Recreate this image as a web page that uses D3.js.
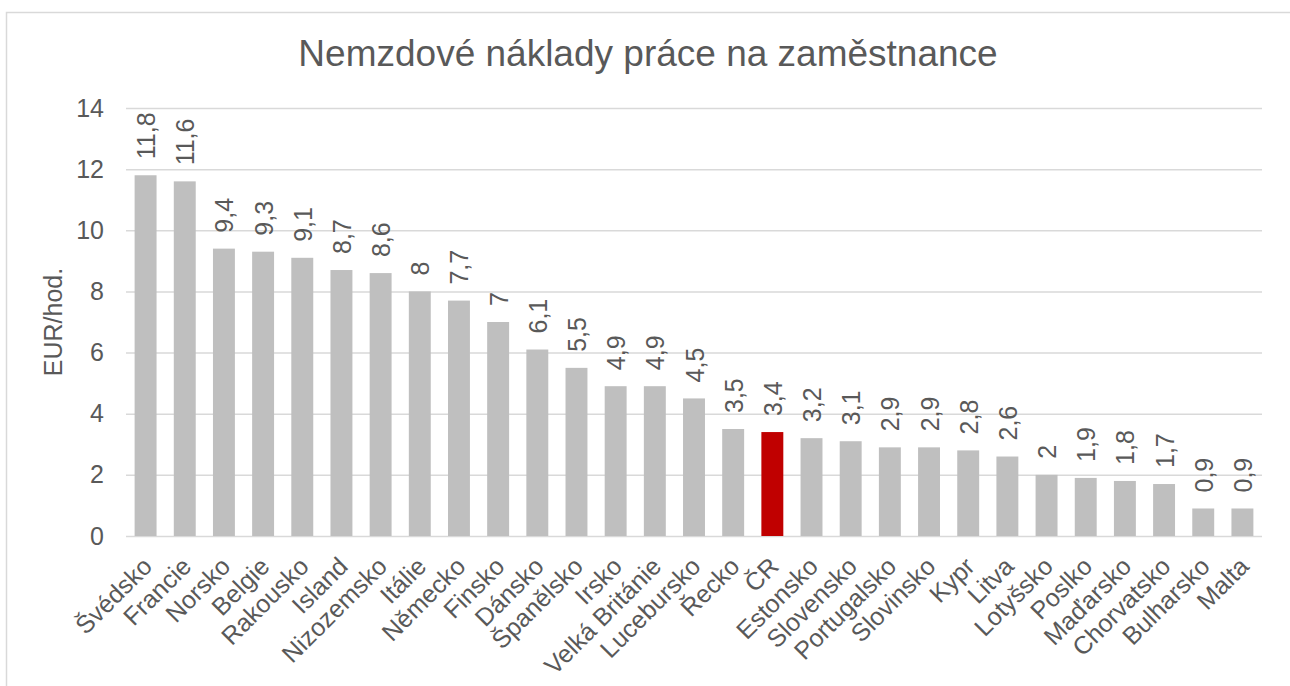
<!DOCTYPE html>
<html>
<head>
<meta charset="utf-8">
<script src="https://cdn.jsdelivr.net/npm/d3@7"></script>
<style>
  body { margin: 0; background: #fff; }
  svg text { font-family: "Liberation Sans", Arial, sans-serif; fill: #595959; }
</style>
</head>
<body>
<svg id="chart" width="1290" height="686"></svg>
<script>
// Data
const countries = ["Švédsko", "Francie", "Norsko", "Belgie", "Rakousko", "Island", "Nizozemsko",
    "Itálie", "Německo", "Finsko", "Dánsko", "Španělsko", "Irsko", "Velká Británie", "Lucebursko",
    "Řecko", "ČR", "Estonsko", "Slovensko", "Portugalsko", "Slovinsko", "Kypr", "Litva", "Lotyšsko",
    "Poslko", "Maďarsko", "Chorvatsko", "Bulharsko", "Malta"];
const costs = [11.8, 11.6, 9.4, 9.3, 9.1, 8.7, 8.6, 8, 7.7, 7, 6.1, 5.5, 4.9, 4.9, 4.5,
    3.5, 3.4, 3.2, 3.1, 2.9, 2.9, 2.8, 2.6, 2, 1.9, 1.8, 1.7, 0.9, 0.9];
const highlight = "ČR";
const yTicks = [0, 2, 4, 6, 8, 10, 12, 14];

const title = "Nemzdové náklady práce na zaměstnance";
const yTitle = "EUR/hod.";

const data = countries.map((c, i) => ({ name: c, value: costs[i] }));

const margin = { left: 126, right: 28, top: 108, bottom: 150 };
const width = 1290, height = 686;

const svg = d3.select("#chart");

// outer chart border (runs off the right and bottom edge)
svg.append("rect")
    .attr("x", 6.5).attr("y", 12.5)
    .attr("width", 1400).attr("height", 800)
    .attr("fill", "none")
    .attr("stroke", "#d9d9d9")
    .attr("stroke-width", 1.5);

const x = d3.scaleBand()
    .domain(countries)
    .range([margin.left, width - margin.right])
    .paddingInner(0.44)
    .paddingOuter(0.22);

const y = d3.scaleLinear()
    .domain([0, 14])
    .range([height - margin.bottom, margin.top]);

// gridlines + tick labels
const yAxis = d3.axisLeft(y)
    .tickValues(yTicks)
    .tickSize(-(width - margin.left - margin.right))
    .tickPadding(22)
    .tickFormat(d3.format("d"));

const yAxisG = svg.append("g")
    .attr("transform", `translate(${margin.left},0)`)
    .call(yAxis);
yAxisG.select(".domain").remove();
yAxisG.selectAll(".tick line")
    .attr("stroke", "#d9d9d9")
    .attr("stroke-width", 1.5);
yAxisG.selectAll(".tick text")
    .style("font-size", "25px")
    .attr("fill", "#595959");

// bars
svg.append("g")
    .selectAll("rect")
    .data(data)
    .join("rect")
    .attr("x", d => x(d.name))
    .attr("y", d => y(d.value))
    .attr("width", x.bandwidth())
    .attr("height", d => y(0) - y(d.value))
    .attr("fill", d => d.name === highlight ? "#c00000" : "#bfbfbf");

// value labels, rotated
const fmt = v => String(v).replace(".", ",");
svg.append("g")
    .selectAll("text")
    .data(data)
    .join("text")
    .attr("transform", d => `translate(${x(d.name) + x.bandwidth() / 2 + 9.5},${y(d.value) - 16}) rotate(-90)`)
    .attr("text-anchor", "start")
    .style("font-size", "25px")
    .text(d => fmt(d.value));

// category labels
svg.append("g")
    .selectAll("text")
    .data(data)
    .join("text")
    .attr("transform", d => `translate(${x(d.name) + x.bandwidth() / 2 + 8},${y(0) + 32}) rotate(-45)`)
    .attr("text-anchor", "end")
    .style("font-size", "25px")
    .text(d => d.name);

// y axis title
svg.append("text")
    .attr("transform", `translate(62,${(y(0) + y(14)) / 2}) rotate(-90)`)
    .attr("text-anchor", "middle")
    .style("font-size", "25px")
    .text(yTitle);

// chart title
svg.append("text")
    .attr("x", 648)
    .attr("y", 66)
    .attr("text-anchor", "middle")
    .style("font-size", "37px")
    .text(title);
</script>
</body>
</html>
